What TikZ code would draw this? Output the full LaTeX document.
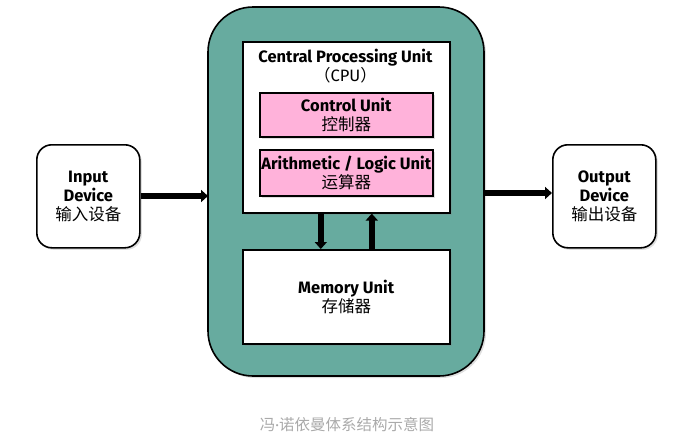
\documentclass[tikz,border=0pt]{standalone}
\usepackage{fontspec}
\setmainfont{Fira Sans}
\newfontfamily\cjk{Noto Sans CJK SC}
\usetikzlibrary{arrows.meta,shadows}
\definecolor{tealbg}{RGB}{103,171,159}
\definecolor{pinkbox}{RGB}{255,178,218}
\definecolor{captiongray}{RGB}{170,170,170}
\tikzset{
  box/.style={draw=black, line width=1.6pt, fill=white, drop shadow={shadow xshift=2pt, shadow yshift=-2pt, opacity=0.25}},
  pbox/.style={box, fill=pinkbox},
  devbox/.style={box, rounded corners=15pt},
  flow/.style={line width=5.5pt, -{Triangle[length=7pt,width=12pt]}},
  lbl/.style={align=center, font=\fontsize{16.5}{19}\selectfont, inner sep=0pt},
}
\begin{document}
\begin{tikzpicture}[x=1pt,y=-1pt]
\useasboundingbox (0,0) rectangle (685,445);
% outer computer
\draw[box, fill=tealbg, rounded corners=45pt] (208,7) rectangle (484,376);
\coordinate (outerL) at (208,196);
\coordinate (outerR) at (484,193);
% CPU
\node[box, minimum width=207pt, minimum height=171pt, anchor=north west] (cpu) at (242,41) {};
\node[lbl, anchor=north] (cputxt) at (345.5,49) {\textbf{Central Processing Unit}\\{\cjk （}CPU{\cjk ）}};
\node[pbox, lbl, minimum width=173pt, minimum height=44pt, anchor=north west] (cu) at (259,92) {\textbf{Control Unit}\\{\cjk 控制器}};
\node[pbox, lbl, minimum width=173pt, minimum height=46pt, anchor=north west] (alu) at (259,149) {\textbf{Arithmetic / Logic Unit}\\{\cjk 运算器}};
% Memory
\node[box, lbl, minimum width=207pt, minimum height=94pt, anchor=north west] (mem) at (242,249) {\textbf{Memory Unit}\\{\cjk 存储器}};
% devices
\node[devbox, lbl, minimum width=103pt, minimum height=103pt, anchor=north west] (in) at (36,144) {\textbf{Input}\\\textbf{Device}\\{\cjk 输入设备}};
\node[devbox, lbl, minimum width=103pt, minimum height=103pt, anchor=north west] (out) at (552,144) {\textbf{Output}\\\textbf{Device}\\{\cjk 输出设备}};
% arrows
\draw[flow] (in.east |- outerL) -- (outerL);
\draw[flow] (outerR) -- (out.west |- outerR);
\draw[flow] ([xshift=-25.5pt]cpu.south) -- ([xshift=-25.5pt]mem.north);
\draw[flow] ([xshift=25.5pt]mem.north) -- ([xshift=25.5pt]cpu.south);
% caption
\node[font=\cjk\fontsize{15.5}{18}\selectfont, text=captiongray] (cap) at (347,425) {冯{\rmfamily ·}诺依曼体系结构示意图};
\end{tikzpicture}
\end{document}
